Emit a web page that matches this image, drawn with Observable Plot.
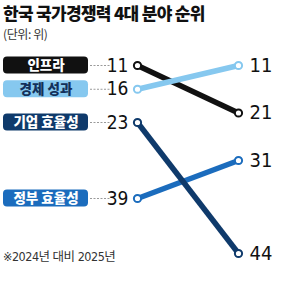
<!DOCTYPE html>
<html>
<head>
<meta charset="utf-8">
<script src="https://cdn.jsdelivr.net/npm/d3@7"></script>
<script src="https://cdn.jsdelivr.net/npm/@observablehq/plot@0.6"></script>
<style>
  body { margin: 0; background: #fff; width: 289px; height: 300px; position: relative; overflow: hidden; font-family: "Noto Sans CJK KR", "Noto Sans", sans-serif; }
  #title { position: absolute; left: 3px; top: 0px; font-size: 17px; font-weight: 900; color: #111; letter-spacing: -0.7px; white-space: nowrap; }
  #sub { position: absolute; left: 3px; top: 25px; font-size: 12px; color: #333; letter-spacing: -0.4px; }
  #chart { position: absolute; left: 0; top: 48px; }
  #note { position: absolute; left: 3px; top: 246px; font-size: 12.5px; color: #333; letter-spacing: -0.5px; font-family: "DejaVu Sans Condensed", "Noto Sans CJK KR", sans-serif; }
</style>
</head>
<body>
<div id="title">한국 국가경쟁력 4대 분야 순위</div>
<div id="sub">(단위: 위)</div>
<div id="chart"></div>
<div id="note">※2024년 대비 2025년</div>
<script>
const categories = ["인프라", "경제 성과", "정부 효율성", "기업 효율성"];
const rank2024 = [11, 16, 39, 23];
const rank2025 = [21, 11, 31, 44];
const years = [2024, 2025];
const colors = ["#111111", "#86c8ef", "#1b6cbd", "#0f3a6b"];
const labelColors = ["#ffffff", "#13305a", "#ffffff", "#ffffff"];

const rows = categories.map((c, i) => ({cat: c, a: rank2024[i], b: rank2025[i], color: colors[i], tc: labelColors[i]}));
const ends = rows.flatMap(r => [{cat: r.cat, year: years[0], v: r.a, color: r.color}, {cat: r.cat, year: years[1], v: r.b, color: r.color}]);

const numFont = "DejaVu Sans Condensed, Liberation Sans Narrow, Roboto, sans-serif";

const plot = Plot.plot({
  width: 289,
  height: 252,
  margin: 0,
  x: {type: "linear", domain: years, range: [137, 238], axis: null},
  y: {type: "linear", domain: [11, 39, 44], range: [17, 150, 205], axis: null},
  marks: [
    // pill labels
    Plot.rect(rows, {x1: () => years[0], x2: () => years[0], y1: "a", y2: "a",
      insetLeft: -134, insetRight: 49, insetTop: -8.5, insetBottom: -8.5, rx: 4, fill: "color"}),
    Plot.text(rows, {x: () => years[0], y: "a", text: "cat", dx: -91.5, fill: "tc",
      fontSize: 13.5, fontWeight: 900, fontFamily: "Noto Sans CJK KR, sans-serif"}),
    // dashed connectors
    Plot.ruleY(rows, {x1: () => years[0], x2: () => years[0], y: "a",
      insetLeft: -47, insetRight: 27, stroke: "#9a9a9a", strokeWidth: 1, strokeDasharray: "2,1.5"}),
    // lines
    Plot.link(rows, {x1: () => years[0], x2: () => years[1], y1: "a", y2: "b",
      stroke: "color", strokeWidth: 5.5}),
    Plot.dot(ends, {x: "year", y: "v", r: 3.6, fill: "white", stroke: "color", strokeWidth: 2}),
    // value labels
    Plot.text(rows, {x: () => years[0], y: "a", text: "a", dx: -9, textAnchor: "end",
      fontSize: 19, fontFamily: numFont, fill: "#111", letterSpacing: -1}),
    Plot.text(rows, {x: () => years[1], y: "b", text: "b", dx: 11, textAnchor: "start",
      fontSize: 20, fontFamily: numFont, fill: "#111", letterSpacing: -1})
  ]
});
document.getElementById("chart").append(plot);
</script>
</body>
</html>
